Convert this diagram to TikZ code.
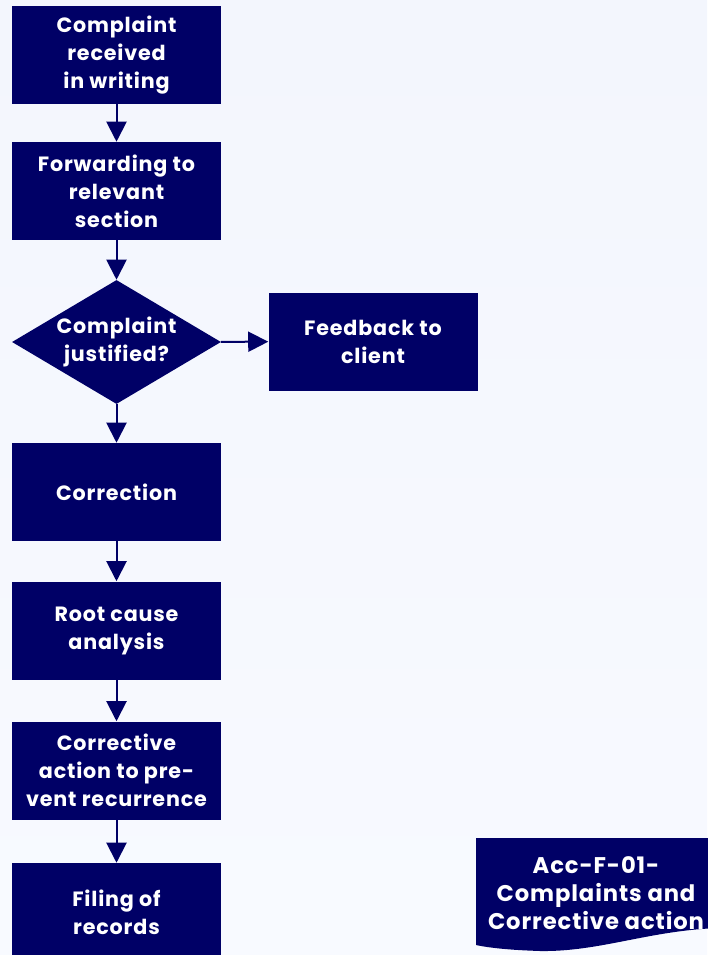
\documentclass[tikz,border=0pt]{standalone}
\usepackage{fontspec}
\setsansfont{Poppins}[LetterSpace=4]
\usepackage{tikz}
\usetikzlibrary{arrows.meta, shapes.geometric, calc, positioning}
\definecolor{navy}{HTML}{000066}
\definecolor{bgTop}{HTML}{F3F6FD}
\definecolor{bgMid}{HTML}{DCE7FA}
\definecolor{bgBot}{HTML}{F8FAFF}
\tikzset{
    stepBox/.style={rectangle, fill=navy, text=white, inner sep=0pt, minimum width=156.75pt, minimum height=73.5pt, align=center, font=\sffamily\bfseries\fontsize{15.5}{21}\selectfont},
    decisionBox/.style={diamond, aspect=1.69, fill=navy, text=white, inner sep=0pt, minimum width=156.75pt, minimum height=93pt, align=center, font=\sffamily\bfseries\fontsize{15.5}{21}\selectfont},
    docText/.style={text=white, inner sep=0pt, align=center, font=\sffamily\bfseries\fontsize{17}{21}\selectfont},
    flowEdge/.style={-{Triangle[width=15pt, length=15pt]}, draw=navy, line width=1.5pt},
}
\newcommand{\flowLink}[2]{
    \draw[flowEdge] (#1) -- (#2);
}

\begin{document}
\begin{tikzpicture}[x=0.75pt, y=-0.75pt]

        % background
        \useasboundingbox (0,0) rectangle (707,955);
        \shade[top color=bgTop, middle color=bgMid, bottom color=bgBot] (0,0) rectangle (707,955);

        \node[stepBox] (received) at (116.5,55) {Complaint\\received\\in writing};
        \node[stepBox] (forward) at (116.5,191) {Forwarding to\\relevant\\section};
        \node[decisionBox] (justified) at (116.5,342) {Complaint\\justified?};
        \node[stepBox] (feedback) at (373,341.5) {Feedback to\\client};
        \node[stepBox] (correction) at (116.5,492) {Correction};
        \node[stepBox] (rootcause) at (116.5,630.5) {Root cause\\analysis};
        \node[stepBox] (corrective) at (116.5,770.5) {Corrective\\action to pre-\\vent recurrence};
        \node[stepBox] (filing) at (116.5,912) {Filing of\\records};

        % document symbol with the form reference
        \fill[navy] (476,838) -- (720,838) -- (720,928)
            .. controls (650,930) and (600,952) .. (540,951)
            .. controls (510,950) and (490,948) .. (476,945) -- cycle;
        \node[docText] (formref) at (596,893) {Acc-F-01-\\Complaints and\\Corrective action};

        \flowLink{received}{forward}
        \flowLink{forward}{justified}
        \flowLink{justified}{feedback}
        \flowLink{justified}{correction}
        \flowLink{correction}{rootcause}
        \flowLink{rootcause}{corrective}
        \flowLink{corrective}{filing}

    \end{tikzpicture}
\end{document}
